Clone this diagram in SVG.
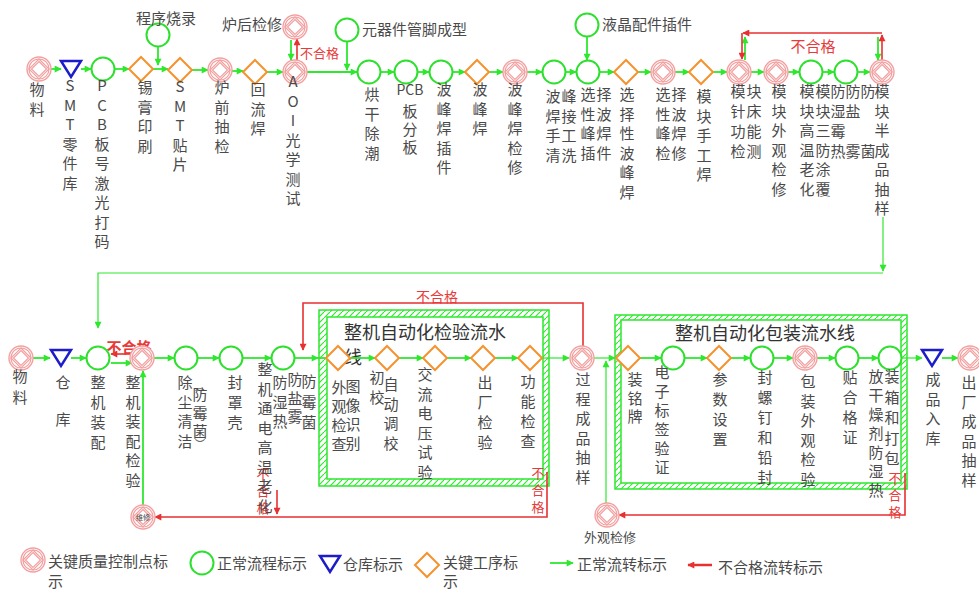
<svg xmlns="http://www.w3.org/2000/svg" width="979" height="592" viewBox="0 0 979 592">
<style>
text{font-family:"Noto Sans CJK SC","Noto Sans",sans-serif;fill:#4a4a4a;}
.v{writing-mode:vertical-rl;text-orientation:upright;font-size:15px;letter-spacing:4.5px;}
.h{font-size:15px;}
.t{font-size:18px;fill:#333;}
.r{fill:#e83a3a;}
.s{font-size:13px;}
.p{font-size:10px;text-anchor:middle;}
.g{fill:none;stroke:#2ee82e;stroke-width:1.8;}
.gt{fill:none;stroke:#2ee82e;stroke-width:1.2;}
.rd{fill:none;stroke:#e83030;stroke-width:1.6;}
.c{fill:#fff;stroke:#2ee02e;stroke-width:2;}
.d{fill:#fff;stroke:#f5922e;stroke-width:2;}
.w{fill:#fff;stroke:#1c1cc8;stroke-width:2.5;}
.q{fill:#fff;stroke:#f3a0a0;stroke-width:1.4;}
.qi{fill:none;stroke:#f3a0a0;stroke-width:1.2;}
.box{fill:url(#hatch);fill-rule:evenodd;stroke:#2ee82e;stroke-width:1.5;}
</style>
<defs>
<marker id="ag" viewBox="0 0 10 10" refX="9" refY="5" markerWidth="8" markerHeight="7" markerUnits="userSpaceOnUse" orient="auto"><path d="M0,0L10,5L0,10z" fill="#2ee82e"/></marker>
<marker id="ar" viewBox="0 0 10 10" refX="9" refY="5" markerWidth="9" markerHeight="7" markerUnits="userSpaceOnUse" orient="auto"><path d="M0,0L10,5L0,10z" fill="#e83030"/></marker>
<pattern id="hatch" width="6" height="6" patternUnits="userSpaceOnUse"><path d="M-1,7L7,-1" stroke="#2ee82e" stroke-width="1.2"/></pattern>
<g id="qc"><circle r="12" class="q"/><circle r="10" class="qi"/><path d="M0,-10L10,0L0,10L-10,0Z" class="qi"/><path d="M0,-7.5L7.5,0L0,7.5L-7.5,0Z" class="qi"/></g>
<circle id="gc" r="11.5" class="c"/>
<path id="od" d="M0,-12L12,0L0,12L-12,0Z" class="d"/>
<path id="bt" d="M-10,-8L10,-8L0,8Z" class="w"/>
</defs>
<rect width="979" height="592" fill="#fff"/>

<g id="box-inspect"><path class="box" d="M319,310H549V486H319Z M327,317V479H543V317Z"/><text class="t" x="344" y="339">整机自动化检验流水</text><text class="t" x="344" y="364">线</text></g>
<g id="box-pack"><path class="box" d="M615,315H907V489H615Z M621,320V483H901V320Z"/><text class="t" x="675" y="340">整机自动化包装流水线</text></g>

<g id="connectors">
<path class="g" marker-end="url(#ag)" d="M51,69H61"/>
<path class="g" marker-end="url(#ag)" d="M81,69H91"/>
<path class="g" marker-end="url(#ag)" d="M115,69H129"/>
<path class="g" marker-end="url(#ag)" d="M153,69H168"/>
<path class="g" marker-end="url(#ag)" d="M192,70H208"/>
<path class="g" marker-end="url(#ag)" d="M232,71H243"/>
<path class="g" marker-end="url(#ag)" d="M267,72H283"/>
<path class="g" marker-end="url(#ag)" d="M307,72H357"/>
<path class="g" marker-end="url(#ag)" d="M381,72H394"/>
<path class="g" marker-end="url(#ag)" d="M418,72H429"/>
<path class="g" marker-end="url(#ag)" d="M453,72H465"/>
<path class="g" marker-end="url(#ag)" d="M489,72H503"/>
<path class="g" marker-end="url(#ag)" d="M527,72H542"/>
<path class="g" marker-end="url(#ag)" d="M566,72H576"/>
<path class="g" marker-end="url(#ag)" d="M600,72H614"/>
<path class="g" marker-end="url(#ag)" d="M638,72H651"/>
<path class="g" marker-end="url(#ag)" d="M675,72H689"/>
<path class="g" marker-end="url(#ag)" d="M713,72H727"/>
<path class="g" marker-end="url(#ag)" d="M751,72H764"/>
<path class="g" marker-end="url(#ag)" d="M788,72H799"/>
<path class="g" marker-end="url(#ag)" d="M823,72H834"/>
<path class="g" marker-end="url(#ag)" d="M858,72H870"/>
<path class="g" marker-end="url(#ag)" d="M158,47V65"/>
<path class="g" marker-end="url(#ag)" d="M347,42V70"/>
<path class="g" marker-end="url(#ag)" d="M587,37V60"/>
<path class="g" marker-end="url(#ag)" d="M291,40V60"/>
<path class="rd" marker-end="url(#ar)" d="M297,60V39"/>
<path class="g" marker-end="url(#ag)" d="M745,60V37"/>
<path class="g" marker-end="url(#ag)" d="M878,37V60"/>
<path class="rd" marker-end="url(#ar)" d="M882,60V35"/>
<path class="rd" marker-end="url(#ar)" d="M882,33H743"/>
<path class="rd" marker-end="url(#ar)" d="M742,33V59"/>
<path class="gt" marker-end="url(#ag)" d="M883,217V271"/>
<path class="gt" marker-end="url(#ag)" d="M883,273H98V328"/>
<path class="g" marker-end="url(#ag)" d="M33,358H50"/>
<path class="g" marker-end="url(#ag)" d="M71,358H86"/>
<path class="g" marker-end="url(#ag)" d="M111,363H132"/>
<path class="rd" marker-end="url(#ar)" d="M134,354H111"/>
<path class="g" marker-end="url(#ag)" d="M154,358H174"/>
<path class="g" marker-end="url(#ag)" d="M198,358H219"/>
<path class="g" marker-end="url(#ag)" d="M243,358H271"/>
<path class="g" marker-end="url(#ag)" d="M295,358H318"/>
<path class="g" d="M318,358H326"/>
<path class="g" marker-end="url(#ag)" d="M350,358H375"/>
<path class="g" marker-end="url(#ag)" d="M399,358H423"/>
<path class="g" marker-end="url(#ag)" d="M447,358H471"/>
<path class="g" marker-end="url(#ag)" d="M495,358H518"/>
<path class="gt" marker-end="url(#ag)" d="M542,358H569"/>
<path class="gt" marker-end="url(#ag)" d="M594,358H615"/>
<path class="g" marker-end="url(#ag)" d="M640,358H661"/>
<path class="g" marker-end="url(#ag)" d="M685,358H707"/>
<path class="g" marker-end="url(#ag)" d="M731,358H750"/>
<path class="g" marker-end="url(#ag)" d="M774,358H793"/>
<path class="g" marker-end="url(#ag)" d="M817,358H835"/>
<path class="g" marker-end="url(#ag)" d="M859,358H878"/>
<path class="gt" marker-end="url(#ag)" d="M902,358H922"/>
<path class="g" marker-end="url(#ag)" d="M942,358H958"/>
<path class="g" marker-end="url(#ag)" d="M143,506V371"/>
<path class="gt" marker-end="url(#ag)" d="M606,504V361"/>
<path class="rd" marker-end="url(#ar)" d="M583,346V303H303V350"/>
<path class="rd" marker-end="url(#ar)" d="M547,472V517H155"/>
<path class="rd" marker-end="url(#ar)" d="M277,490V514"/>
<path class="rd" marker-end="url(#ar)" d="M905,473V515H619"/>
<text class="r s" x="300" y="58">不合格</text>
<text class="r h" x="813" y="52" text-anchor="middle">不合格</text>
<text class="r h" x="129" y="353" text-anchor="middle" font-weight="bold">不合格</text>
<text class="r h" x="437" y="302" text-anchor="middle" style="font-size:14px">不合格</text>
<text class="r v" x="538" y="467" style="font-size:13px;letter-spacing:4px">不合格</text>
<text class="r v" x="895" y="472" style="font-size:13px;letter-spacing:4px">不合格</text>
<text class="r v" x="263" y="468" style="font-size:13px;letter-spacing:4px">不合格</text>
</g>

<g id="n1"><use href="#qc" x="39" y="69"/><text class="v" x="37" y="82">物料</text></g>
<g id="n2"><use href="#bt" x="71" y="69"/><text class="v" x="70" y="78">SMT零件库</text></g>
<g id="n3"><use href="#gc" x="103" y="69"/><text class="v" x="102" y="78">PCB板号激光打码</text></g>
<g id="n4"><use href="#od" x="141" y="69"/><text class="v" x="145" y="80">锡膏印刷</text></g>
<g id="n5"><use href="#gc" x="158" y="35"/><text class="h" x="166" y="24" text-anchor="middle">程序烧录</text></g>
<g id="n6"><use href="#od" x="180" y="70"/><text class="v" x="180" y="79">SMT贴片</text></g>
<g id="n7"><use href="#qc" x="220" y="70"/><text class="v" x="222" y="80">炉前抽检</text></g>
<g id="n8"><use href="#od" x="255" y="72"/><text class="v" x="258" y="82">回流焊</text></g>
<g id="n9"><use href="#qc" x="295" y="72"/><text class="v" x="293" y="74">AOI光学测试</text></g>
<g id="n10"><use href="#qc" x="295" y="27"/><text class="h" x="282" y="30" text-anchor="end">炉后检修</text></g>
<g id="n11"><use href="#gc" x="347" y="30"/><text class="h" x="362" y="35">元器件管脚成型</text></g>
<g id="n12"><use href="#gc" x="369" y="72"/><text class="v" x="372" y="87">烘干除潮</text></g>
<g id="n13"><use href="#gc" x="406" y="72"/><text class="h" x="410" y="95" text-anchor="middle" style="font-size:14px">PCB</text><text class="v" x="410" y="104" style="letter-spacing:3px">板分板</text></g>
<g id="n14"><use href="#gc" x="441" y="72"/><text class="v" x="444" y="82">波峰焊插件</text></g>
<g id="n15"><use href="#od" x="477" y="72"/><text class="v" x="480" y="82">波峰焊</text></g>
<g id="n16"><use href="#qc" x="515" y="72"/><text class="v" x="515" y="82">波峰焊检修</text></g>
<g id="n17"><use href="#gc" x="554" y="72"/><text class="v" x="553" y="89">波焊手清</text><text class="v" x="569" y="89">峰接工洗</text></g>
<g id="n18"><use href="#gc" x="588" y="72"/><text class="v" x="588" y="87">选性峰插</text><text class="v" x="604" y="87">择波焊件</text></g>
<g id="n19"><use href="#gc" x="587" y="25"/><text class="h" x="602" y="30">液晶配件插件</text></g>
<g id="n20"><use href="#od" x="626" y="72"/><text class="v" x="627" y="87">选择性波峰焊</text></g>
<g id="n21"><use href="#qc" x="663" y="72"/><text class="v" x="663" y="87">选性峰检</text><text class="v" x="679" y="87">择波焊修</text></g>
<g id="n22"><use href="#od" x="701" y="72"/><text class="v" x="704" y="89">模块手工焊</text></g>
<g id="n23"><use href="#qc" x="739" y="72"/><text class="v" x="738" y="84" style="letter-spacing:5px">模针功检</text><text class="v" x="754" y="84" style="letter-spacing:5px">块床能测</text></g>
<g id="n24"><use href="#qc" x="776" y="72"/><text class="v" x="779" y="84">模块外观检修</text></g>
<g id="n25"><use href="#gc" x="811" y="72"/><text class="v" x="807" y="84">模块高温老化</text></g>
<g id="n26"><use href="#gc" x="846" y="72"/><text class="v" x="823" y="84">模块三防涂覆</text><text class="v" x="838" y="84" style="letter-spacing:5px">防湿霉热</text><text class="v" x="853" y="84" style="letter-spacing:5px">防盐</text><text class="v" x="853" y="144">雾</text><text class="v" x="868" y="84">防</text><text class="v" x="868" y="144">菌</text></g>
<g id="n27"><use href="#qc" x="882" y="72"/><text class="v" x="882" y="84">模块半成品抽样</text></g>

<g id="b1"><use href="#qc" x="21" y="358"/><text class="v" x="20" y="369" style="letter-spacing:6px">物料</text></g>
<g id="b2"><use href="#bt" x="61" y="358"/><text class="v" x="63" y="375" style="letter-spacing:22px">仓库</text></g>
<g id="b3"><use href="#gc" x="98" y="358"/><text class="v" x="98" y="375" style="letter-spacing:5px">整机装配</text></g>
<g id="b4"><use href="#qc" x="142" y="358"/><text class="v" x="133" y="375">整机装配检验</text></g>
<g id="b5"><use href="#gc" x="186" y="358"/><text class="v" x="185" y="375">除尘清洁</text><text class="p" x="200" y="390">︵</text><text class="v" x="200" y="387" style="letter-spacing:3.5px">防霉菌</text><text class="p" x="200" y="448">︶</text></g>
<g id="b6"><use href="#gc" x="231" y="358"/><text class="v" x="235" y="375" style="letter-spacing:5px">封罩壳</text></g>
<g id="b7"><use href="#gc" x="283" y="358"/><text class="v" x="265" y="362">整机通电高温老化</text><text class="v" x="280" y="375">防湿热</text><text class="v" x="295" y="372" style="letter-spacing:3.5px">防盐雾</text><text class="v" x="309" y="374" style="letter-spacing:5.5px">防霉菌</text></g>
<g id="b8"><use href="#od" x="338" y="358"/><text class="v" x="339" y="380" style="letter-spacing:4px">外观检查</text><text class="v" x="353" y="379" style="letter-spacing:4px">图像识别</text></g>
<g id="b9"><use href="#od" x="387" y="358"/><text class="v" x="377" y="370" style="letter-spacing:5px">初校</text><text class="v" x="391" y="377">自动调校</text></g>
<g id="b10"><use href="#od" x="435" y="358"/><text class="v" x="425" y="367">交流电压试验</text></g>
<g id="b11"><use href="#od" x="483" y="358"/><text class="v" x="485" y="375" style="letter-spacing:5px">出厂检验</text></g>
<g id="b12"><use href="#od" x="530" y="358"/><text class="v" x="528" y="374" style="letter-spacing:5px">功能检查</text></g>
<g id="b13"><use href="#qc" x="582" y="358"/><text class="v" x="583" y="372">过程成品抽样</text></g>
<g id="b14"><use href="#od" x="628" y="358"/><text class="v" x="635" y="372" style="letter-spacing:3.5px">装铭牌</text></g>
<g id="b15"><use href="#gc" x="673" y="358"/><text class="v" x="662" y="365" style="letter-spacing:4px">电子标签验证</text></g>
<g id="b16"><use href="#od" x="719" y="358"/><text class="v" x="720" y="372" style="letter-spacing:5px">参数设置</text></g>
<g id="b17"><use href="#gc" x="762" y="358"/><text class="v" x="765" y="370" style="letter-spacing:5px">封螺钉和铅封</text></g>
<g id="b18"><use href="#qc" x="805" y="358"/><text class="v" x="808" y="374">包装外观检验</text></g>
<g id="b19"><use href="#gc" x="847" y="358"/><text class="v" x="850" y="370" style="letter-spacing:5px">贴合格证</text></g>
<g id="b20"><use href="#gc" x="890" y="358"/><text class="v" x="876" y="369" style="letter-spacing:4px">放干燥剂防湿热</text><text class="v" x="892" y="369" style="letter-spacing:5.5px">装箱和打包</text></g>
<g id="b21"><use href="#bt" x="932" y="358"/><text class="v" x="933" y="372">成品入库</text></g>
<g id="b22"><use href="#qc" x="970" y="358"/><text class="v" x="969" y="375">出厂成品抽样</text></g>
<g id="b23"><use href="#qc" x="143" y="517"/><text x="143" y="519.5" text-anchor="middle" style="font-size:7px;fill:#444">维修</text></g>
<g id="b24"><use href="#qc" x="607" y="515"/><text class="s" x="610" y="542" text-anchor="middle">外观检修</text></g>

<g id="legend">
<use href="#qc" x="33" y="560"/><text class="h" x="48" y="567">关键质量控制点标</text><text class="h" x="48" y="587">示</text>
<use href="#gc" x="202" y="563"/><text class="h" x="217" y="569">正常流程标示</text>
<use href="#bt" x="330" y="564"/><text class="h" x="343" y="570">仓库标示</text>
<use href="#od" x="427" y="565"/><text class="h" x="443" y="568">关键工序标</text><text class="h" x="443" y="587">示</text>
<path class="g" marker-end="url(#ag)" d="M550,563H573"/><text class="h" x="577" y="570">正常流转标示</text>
<path class="rd" marker-end="url(#ar)" d="M712,565H688" style="stroke-width:2.5"/><text class="h" x="718" y="573">不合格流转标示</text>
</g>
</svg>
